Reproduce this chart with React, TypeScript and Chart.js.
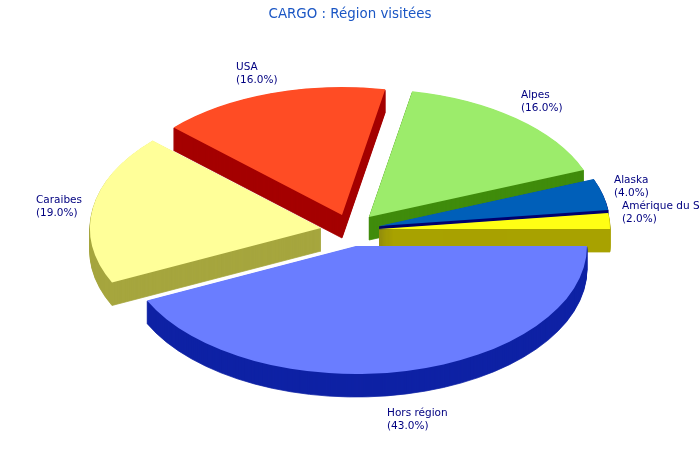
import React, { useEffect, useRef } from "react";
import { Chart, registerables } from "chart.js";

Chart.register(...registerables);

const categories = ["Hors région", "Caraibes", "USA", "Alpes", "Alaska", "Amérique du Sud"];
const shares = [43, 19, 16, 16, 4, 2];
const titleText = "CARGO : Région visitées";

const topColors = ["#6a7dff", "#ffff99", "#ff4c24", "#9cec6b", "#005fb9", "#ffff14"];
const wallColors = ["#0e22a5", "#a6a63e", "#a50000", "#408c0c", "#00006e", "#a8a200"];
const labelColor = "#000080";
const titleColor = "#1a56c4";

// Where each exploded slice's apex sits on the page.
const apexX = [356, 321, 342, 369, 379, 379];
const apexY = [246, 228, 215, 217, 226, 229];
// Left edge and first-line centre of each slice's label.
const labelX = [387, 36, 236, 521, 614, 622];
const labelY = [413, 200, 67, 95, 180, 206];

const RADIUS = 231;
const TILT = 128 / 231;
const DEPTH = 23;
const DRAW_ORDER = [1, 2, 3, 4, 5, 0];

const pie3d = {
  id: "pie3d",
  beforeDatasetDraw(chart: any, args: any) {
    const { ctx } = chart;
    const elements = chart.getDatasetMeta(args.index).data;
    const place = (el: any, i: number, d: number) => {
      ctx.save();
      ctx.translate(apexX[i], apexY[i] + d);
      ctx.scale(1, TILT);
      ctx.translate(-el.x, -el.y);
    };
    for (const i of DRAW_ORDER) {
      const el = elements[i];
      const wall = Object.create(el);
      wall.options = Object.assign({}, el.options, {
        backgroundColor: wallColors[i],
        borderColor: wallColors[i],
        borderWidth: 1,
      });
      for (let d = DEPTH; d >= 1; d--) {
        place(el, i, d);
        wall.draw(ctx);
        ctx.restore();
      }
      place(el, i, 0);
      el.draw(ctx);
      ctx.restore();
    }
    return false;
  },
  afterDatasetsDraw(chart: any) {
    const { ctx } = chart;
    ctx.save();
    ctx.font = "10.5px 'DejaVu Sans'";
    ctx.fillStyle = labelColor;
    ctx.textAlign = "left";
    ctx.textBaseline = "middle";
    categories.forEach((name, i) => {
      ctx.fillText(name, labelX[i], labelY[i]);
      ctx.fillText(`(${shares[i].toFixed(1)}%)`, labelX[i], labelY[i] + 13);
    });
    ctx.restore();
  },
};

export default function App() {
  const ref = useRef<HTMLCanvasElement | null>(null);
  useEffect(() => {
    const chart = new Chart(ref.current as HTMLCanvasElement, {
      type: "pie",
      data: {
        labels: categories,
        datasets: [
          {
            data: shares,
            backgroundColor: topColors,
            borderWidth: 0,
            offset: 0,
          },
        ],
      },
      options: {
        responsive: false,
        animation: false,
        rotation: 90,
        radius: RADIUS,
        plugins: {
          legend: { display: false },
          tooltip: { enabled: false },
          title: {
            display: true,
            text: titleText,
            color: titleColor,
            font: { family: "'DejaVu Sans'", size: 13.4, weight: "normal" },
            padding: { top: 6, bottom: 0 },
          },
        },
      },
      plugins: [pie3d],
    } as any);
    return () => chart.destroy();
  }, []);
  return (
    <div style={{ position: "fixed", left: 0, top: 0, width: 700, height: 460, background: "#fff" }}>
      <canvas ref={ref} width={700} height={460} style={{ display: "block" }} />
    </div>
  );
}
